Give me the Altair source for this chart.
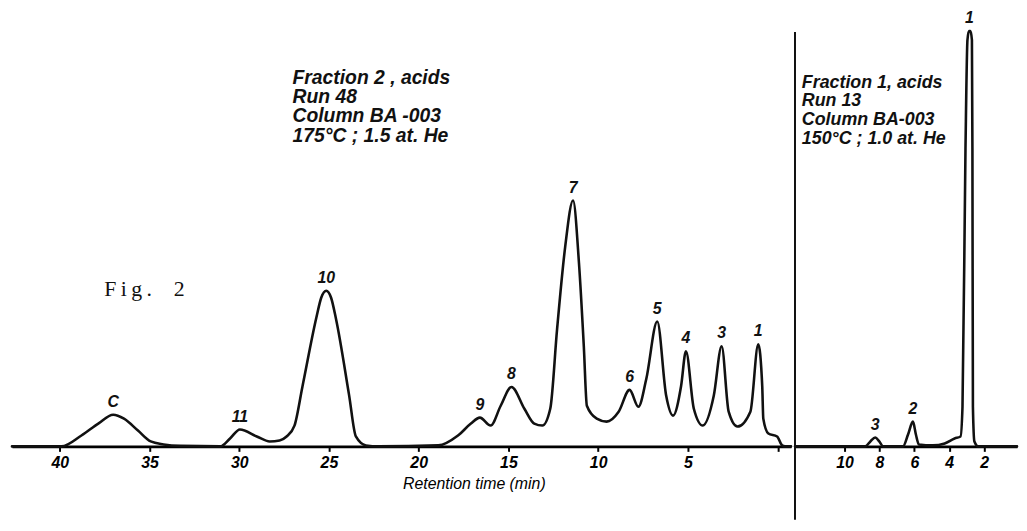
import altair as alt
import pandas as pd

# ---- Left chromatogram: Fraction 2, acids, Run 48 (retention time in min, detector response) ----
left_t = [42.66, 39.90, 38.79, 37.85, 37.02, 36.42, 35.64, 34.93, 34.21, 33.27, 31.06, 30.51,
          29.96, 29.02, 28.30, 27.75, 27.36, 26.92, 26.48, 25.70, 25.43, 25.15, 24.88, 24.60,
          23.88, 23.50, 22.94, 22.23, 18.91, 17.81, 17.09, 16.59, 15.99, 15.43, 14.83, 14.11,
          13.56, 13.11, 12.67, 12.29, 11.84, 11.40, 11.07, 10.80, 10.63, 10.08, 9.53, 8.86,
          8.25, 7.76, 7.32, 6.71, 6.21, 5.83, 5.38, 5.11, 4.67, 4.17, 3.56, 3.12, 2.73, 2.24,
          1.52, 1.08, 0.86, 0.80, 0.52, 0.03, -0.25, -0.41, -0.745]
left_h = [0, 0, 11, 23, 32, 28, 16, 5, 2, 0.5, 0, 8,
          17, 10, 5, 6, 10, 21, 60, 130, 150, 157, 150, 128,
          52, 10, 1, 0, 1, 11, 23, 29, 21, 41, 60, 38,
          23, 21, 38, 118, 201, 248, 185, 101, 41, 28, 25, 35,
          57, 40, 68, 126, 51, 31, 61, 96, 38, 21, 51, 101, 35, 20,
          35, 103, 61, 28, 13, 10, 1, 0, 0]

left_peak_names = ["C", "11", "10", "9", "8", "7", "6", "5", "4", "3", "1"]
left_peak_t = [37.02, 29.96, 25.15, 16.59, 14.83, 11.40, 8.25, 6.71, 5.11, 3.12, 1.08]
left_peak_h = [32, 17, 157, 29, 60, 248, 57, 126, 96, 101, 103]

left_ticks = [40, 35, 30, 25, 20, 15, 10, 5, 0]
left_note = "Fraction 2 , acids\nRun 48\nColumn BA -003\n175°C ; 1.5 at.  He"
left_note_t = 27.03
left_note_h = 366
fig_label = "F\u2009i\u2009g\u2009.\u2002\u20022"
fig_t = 37.52
fig_h = 152

# ---- Right chromatogram: Fraction 1, acids, Run 13 ----
right_t = [12.84, 8.81, 8.52, 8.24, 8.01, 7.78, 6.65, 6.36, 6.08, 5.91, 5.74, 4.94, 4.26,
           3.69, 3.352, 3.239, 3.068, 2.955, 2.869, 2.784, 2.699, 2.670, 2.642, 2.557, 2.330, 0.114]
right_h = [0, 0, 5, 9, 5, 0, 0, 12, 25, 12, 2, 1, 3,
           8, 10, 40, 300, 410, 419, 419, 410, 300, 40, 5, 0, 0]

right_peak_names = ["3", "2", "1"]
right_peak_t = [8.24, 6.08, 2.84]
right_peak_h = [9, 25, 419]

right_ticks = [10, 8, 6, 4, 2]
right_note = "Fraction 1, acids\nRun 13\nColumn BA-003\n150°C ; 1.0 at. He"
right_note_t = 12.45
right_note_h = 362
sep_t = 12.84
sep_top = 418
sep_bottom = -74

FONT = "Liberation Sans"
INK = "#111111"

left_df = pd.DataFrame({"t": left_t, "h": left_h})
left_peaks = pd.DataFrame({"t": left_peak_t, "h": left_peak_h, "name": left_peak_names})
left_notes = pd.DataFrame({"t": [left_note_t], "h": [left_note_h], "txt": [left_note]})
fig_df = pd.DataFrame({"t": [fig_t], "h": [fig_h], "txt": [fig_label]})

right_df = pd.DataFrame({"t": right_t, "h": right_h})
right_peaks = pd.DataFrame({"t": right_peak_t, "h": right_peak_h, "name": right_peak_names})
right_notes = pd.DataFrame({"t": [right_note_t], "h": [right_note_h], "txt": [right_note]})
sep_df = pd.DataFrame({"t": [sep_t], "h": [sep_top], "h2": [sep_bottom]})

y_enc = alt.Y("h:Q", scale=alt.Scale(domain=[0, 440], nice=False, zero=False), axis=None)

xl = alt.X(
    "t:Q",
    scale=alt.Scale(domain=[-0.745, 42.66], reverse=True, nice=False, zero=False),
    axis=alt.Axis(
        values=left_ticks,
        labelExpr="datum.value == 0 ? '' : datum.label",
        title="Retention  time (min)",
        titleX=466, titleY=37, titleBaseline="middle", titleAlign="center",
        titleFontStyle="italic", titleFontWeight="normal", titleFontSize=16,
    ),
)
xr = alt.X(
    "t:Q",
    scale=alt.Scale(domain=[0.114, 12.84], reverse=True, nice=False, zero=False),
    axis=alt.Axis(values=right_ticks, title=None),
)

def panel(df, peaks, notes, xenc, note_size, note_lh, width):
    line = alt.Chart(df).mark_line(
        color=INK, strokeWidth=2.6, interpolate="monotone", strokeJoin="round", strokeCap="round"
    ).encode(x=xenc, y=y_enc)
    labels = alt.Chart(peaks).mark_text(
        font=FONT, fontSize=16, fontStyle="italic", fontWeight="bold", color=INK,
        dy=-13, baseline="middle", align="center"
    ).encode(x=xenc, y=y_enc, text="name:N")
    note = alt.Chart(notes).mark_text(
        font=FONT, fontSize=note_size, fontStyle="italic", fontWeight="bold", color=INK,
        align="left", baseline="alphabetic", lineBreak="\n", lineHeight=note_lh
    ).encode(x=xenc, y=y_enc, text="txt:N")
    return [line, labels, note], width

layers_l, wl = panel(left_df, left_peaks, left_notes, xl, 19.5, 19.5, 786)
fig_txt = alt.Chart(fig_df).mark_text(
    font="Liberation Serif", fontSize=22, color=INK, align="left", baseline="alphabetic"
).encode(x=xl, y=y_enc, text="txt:N")
left = alt.layer(*layers_l, fig_txt).properties(width=wl, height=440)

layers_r, wr = panel(right_df, right_peaks, right_notes, xr, 18, 19, 224)
sep = alt.Chart(sep_df).mark_rule(color=INK, strokeWidth=2).encode(x=xr, y=y_enc, y2="h2:Q")
right = alt.layer(*layers_r, sep).properties(width=wr, height=440)

chart = alt.hconcat(left, right, spacing=0).properties(
    padding={"left": 2, "top": 0, "right": 0, "bottom": 0},
    background="white",
).configure_view(stroke=None).configure_axis(
    domainColor="black", domainWidth=3, tickColor="black", tickWidth=2, tickSize=5,
    labelFont=FONT, labelFontSize=16, labelFontStyle="italic", labelFontWeight="bold",
    labelColor="black", labelPadding=3, grid=False, titleFont=FONT, titleColor="black",
)

chart.save("out.html", embed_options={"renderer": "svg", "actions": False})
